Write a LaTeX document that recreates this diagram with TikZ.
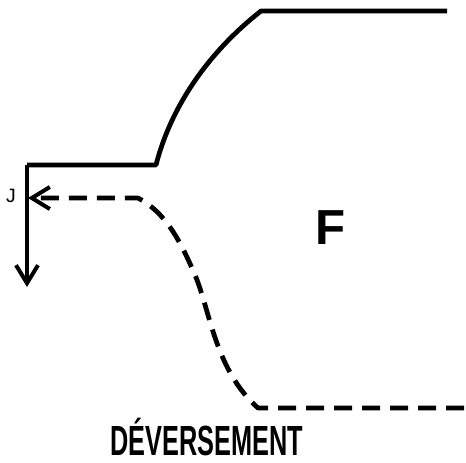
\documentclass[tikz,border=0pt]{standalone}
\usepackage{fontspec}
\setmainfont{Liberation Sans}
\usetikzlibrary{arrows.meta}

\tikzset{
  crest/.style={line width=0.95mm, line join=round},
  lame/.style={line width=0.95mm, dash pattern=on 3.6mm off 2mm, line join=round},
  fleche/.style={-{Straight Barb[length=3.6mm,width=4.4mm,line width=0.8mm]}}
}

\begin{document}
\begin{tikzpicture}[x=0.2mm,y=-0.2mm]
                \useasboundingbox (0,0) rectangle (466,462);
                % Nodes
                \coordinate (a) at (447,11);
                \coordinate (b) at (261,11);
                \coordinate (c) at (156,165);
                \coordinate (d) at (27,165);
                \coordinate (e) at (27,287);
                \coordinate (g) at (464,408);
                \coordinate (h) at (258,408);
                \coordinate (i) at (138,198);
                \coordinate (j) at (28,198);
                \node[font=\fontsize{11}{12}\selectfont] (J) at (11,196) {J};
                \node[font=\fontsize{28}{30}\selectfont\bfseries] (F) at (331,228) {F};
                \node[font=\fontsize{24}{26}\selectfont\bfseries, xscale=0.6, transform shape] (titre) at (207,437) {DÉVERSEMENT};

                % Edges
                \draw[crest] (a)--(b) .. controls (205,55) and (170,110) .. (c)--(d);
                \draw[crest, fleche] (d)--(e);
                \draw[lame, fleche] (g)--(h) .. controls (215,370) and (210,310) .. (195,275)
                            .. controls (180,240) and (165,212) .. (i)--(j);
            \end{tikzpicture}
\end{document}
